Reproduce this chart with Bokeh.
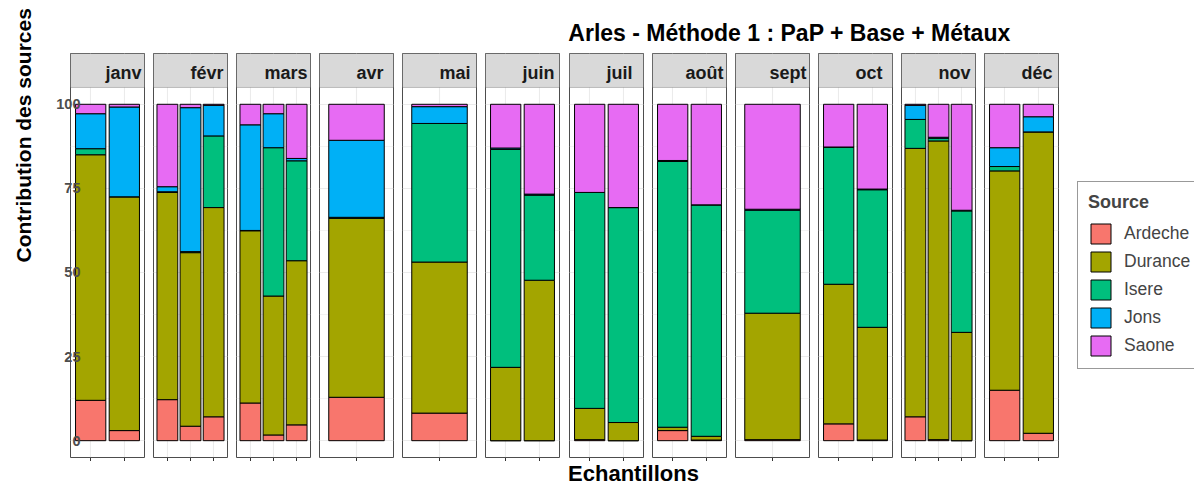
import numpy as np
from bokeh.plotting import figure
from bokeh.models import (ColumnDataSource, Range1d, FixedTicker, Label, Legend,
                          LegendItem, BoxAnnotation)
from bokeh.layouts import row, column
from bokeh.embed import file_html
from bokeh.resources import INLINE
from bokeh.core.properties import value

# ---------------- data ----------------
months = ["janv", "févr", "mars", "avr", "mai", "juin", "juil", "août", "sept", "oct", "nov", "déc"]
samples_per_month = [2, 3, 3, 1, 1, 2, 2, 2, 1, 2, 3, 2]
sources = ["Ardeche", "Durance", "Isere", "Jons", "Saone"]
colors = ["#F8766D", "#A3A500", "#00BF7D", "#00B0F6", "#E76BF3"]

ardeche = [12.0, 3.0, 12.2, 4.3, 7.1, 11.2, 1.7, 4.7, 12.9, 8.2, 0.0, 0.0,
           0.3, 0.0, 3.0, 0.2, 0.3, 5.0, 0.2, 7.1, 0.3, 0.0, 15.0, 2.2]
durance = [73.0, 69.5, 61.6, 51.6, 62.2, 51.2, 41.3, 48.8, 53.2, 44.9, 21.8, 47.7,
           9.3, 5.4, 1.0, 1.1, 37.6, 41.5, 33.5, 79.8, 88.8, 32.2, 65.2, 89.6]
isere = [1.8, 0.0, 0.2, 0.3, 21.3, 0.1, 44.1, 29.7, 0.3, 41.2, 64.8, 25.3,
         64.2, 63.9, 79.0, 68.8, 30.6, 40.8, 40.9, 8.6, 0.8, 36.1, 1.3, 0.0]
jons = [10.4, 26.7, 1.5, 42.8, 9.1, 31.4, 10.1, 0.7, 22.9, 5.0, 0.4, 0.3,
        0.0, 0.0, 0.3, 0.0, 0.3, 0.0, 0.2, 4.2, 0.3, 0.2, 5.6, 4.5]
saone = [2.8, 0.8, 24.5, 1.0, 0.3, 6.1, 2.8, 16.1, 10.7, 0.7, 13.0, 26.7,
         26.2, 30.7, 16.7, 29.9, 31.2, 12.7, 25.2, 0.3, 9.8, 31.5, 12.9, 3.7]
series = [ardeche, durance, isere, jons, saone]

y_ticks = [0, 25, 50, 75, 100]
y_minor = [12.5, 37.5, 62.5, 87.5]

title_text = "Arles - Méthode 1 : PaP + Base + Métaux"
x_title = "Echantillons"
y_title = "Contribution des sources"

# ---------------- layout constants (pixels) ----------------
FONT = "Liberation Sans"
PAGE_W, PAGE_H = 1194, 486
YLAB_W = 40
COL_W = PAGE_W - YLAB_W
TITLE_H = 52
FRAME_W = 74
FRAME_H = 404
TOP_B = 1
BOTTOM_B = 4
ROW_H = TOP_B + FRAME_H + BOTTOM_B
ROW_BOTTOM = TITLE_H + ROW_H
XLAB_H = PAGE_H - ROW_BOTTOM
Y_LO, Y_HI = -5, 105
STRIP = 10.1
STRIP_FS = 18
GRID_COL = "#EBEBEB"
BORDER_COL = "#4D4D4D"
BASE_SHIFT = 0.35  # baseline correction (em)

# approximate advance widths (em) of the bold sans used in the strips
_BOLD_W = {"a": .556, "c": .556, "d": .611, "e": .556, "é": .556, "f": .333, "i": .278,
           "j": .278, "l": .278, "m": .889, "n": .611, "o": .611, "p": .611, "r": .389,
           "s": .556, "t": .333, "u": .611, "û": .611, "v": .556}


def strip_text_width(t):
    return sum(_BOLD_W.get(ch, .6) for ch in t) * STRIP_FS


frame_lefts = [70 + int(round(i * 83.09)) for i in range(12)]


def blank_fig(w, h):
    f = figure(width=w, height=h, toolbar_location=None, output_backend="svg",
               x_axis_location=None, y_axis_location=None, min_border=0,
               x_range=Range1d(0, 1), y_range=Range1d(0, 1))
    f.outline_line_color = None
    f.grid.visible = False
    return f


panels = []
start = YLAB_W
offset = 0
src = None
for i, (m, n) in enumerate(zip(months, samples_per_month)):
    data = {"x": list(range(1, n + 1))}
    for s, vals in zip(sources, series):
        data[s] = vals[offset:offset + n]
    offset += n
    src = ColumnDataSource(data)

    left_b = frame_lefts[i] - start
    p = figure(frame_width=FRAME_W, frame_height=FRAME_H,
               x_range=Range1d(0.4, n + 0.6), y_range=Range1d(Y_LO, Y_HI + STRIP),
               toolbar_location=None, output_backend="svg",
               y_axis_location="left" if i == 0 else None,
               x_axis_location="below",
               min_border_left=left_b, min_border_right=1,
               min_border_top=TOP_B, min_border_bottom=BOTTOM_B)
    p.outline_line_color = BORDER_COL
    p.outline_line_width = 1
    p.background_fill_color = "white"
    p.border_fill_color = "white"

    p.ygrid.ticker = FixedTicker(ticks=y_ticks, minor_ticks=y_minor)
    p.ygrid.grid_line_color = GRID_COL
    p.ygrid.grid_line_width = 1.1
    p.ygrid.minor_grid_line_color = GRID_COL
    p.ygrid.minor_grid_line_width = 0.6
    p.xgrid.ticker = FixedTicker(ticks=list(range(1, n + 1)))
    p.xgrid.grid_line_color = GRID_COL
    p.xgrid.grid_line_width = 1.1

    p.xaxis.ticker = FixedTicker(ticks=list(range(1, n + 1)))
    p.xaxis.axis_line_color = None
    p.xaxis.major_tick_in = 0
    p.xaxis.major_tick_out = 4
    p.xaxis.major_tick_line_color = "#333333"
    p.xaxis.minor_tick_line_color = None
    p.xaxis.major_label_text_font_size = "0px"
    p.xaxis.major_label_text_color = None
    p.xaxis.major_label_standoff = 0

    if i == 0:
        p.yaxis.ticker = FixedTicker(ticks=y_ticks)
        p.yaxis.axis_line_color = None
        p.yaxis.major_tick_in = 0
        p.yaxis.major_tick_out = 0
        p.yaxis.minor_tick_line_color = None
        p.yaxis.major_label_text_font = FONT
        p.yaxis.major_label_text_font_style = "bold"
        p.yaxis.major_label_text_font_size = "14.5px"
        p.yaxis.major_label_text_color = "#4D4D4D"
        p.yaxis.major_label_standoff = -10

    # strip
    p.add_layout(BoxAnnotation(bottom=Y_HI, fill_color="#D9D9D9", fill_alpha=1,
                               line_color=BORDER_COL, line_width=1, level="underlay"))
    fits = strip_text_width(m) <= FRAME_W / 2 - 2
    p.text(x=[(n + 1) / 2 if fits else n + 0.6], y=[Y_HI + 0.43 * STRIP], text=[m],
           x_offset=0 if fits else -3,
           text_font=value(FONT), text_font_style="bold", text_font_size=f"{STRIP_FS}px",
           text_align="left" if fits else "right", text_baseline="alphabetic",
           text_color="#1A1A1A")

    p.vbar_stack(sources, x="x", width=0.9, color=colors,
                 line_color="black", line_width=1, source=src)

    panels.append(p)
    start = frame_lefts[i] + FRAME_W + 1

# legend figure (right of the panels); its key glyphs reuse the last month's data, hidden
LEG_W = PAGE_W - start
lf = blank_fig(LEG_W, ROW_H)
leg_items = []
for s, c in zip(sources, colors):
    r = lf.vbar(x="x", top=s, width=0.9, source=src, fill_color=c,
                line_color="black", line_width=1, visible=False)
    leg_items.append(LegendItem(label=s, renderers=[r]))
legend = Legend(items=leg_items, location=(1077 - start, ROW_BOTTOM - 373),
                title="Source", title_text_font=FONT, title_text_font_style="bold",
                title_text_font_size="18px", label_text_font=FONT,
                label_text_font_size="17.5px", glyph_width=25, glyph_height=25,
                spacing=3, padding=10, label_standoff=11, title_standoff=8,
                border_line_color="#333333", border_line_width=1,
                inactive_fill_alpha=0,
                background_fill_color="white", background_fill_alpha=1, margin=0)
lf.add_layout(legend)

# title figure
tf = blank_fig(COL_W, TITLE_H)
tf.add_layout(Label(x=789 - YLAB_W, y=TITLE_H - (40.7 - BASE_SHIFT * 23),
                    x_units="screen", y_units="screen", text=title_text,
                    text_align="center", text_baseline="alphabetic", text_font=FONT,
                    text_font_style="bold", text_font_size="23px", text_color="black"))

# x label figure
xf = blank_fig(COL_W, XLAB_H)
xf.add_layout(Label(x=633 - YLAB_W, y=PAGE_H - (481.1 - BASE_SHIFT * 22),
                    x_units="screen", y_units="screen", text=x_title,
                    text_align="center", text_baseline="alphabetic", text_font=FONT,
                    text_font_style="bold", text_font_size="22px", text_color="black"))

# y label figure
yf = blank_fig(YLAB_W, PAGE_H)
yf.add_layout(Label(x=30 - BASE_SHIFT * 21, y=PAGE_H - 262, x_units="screen", y_units="screen",
                    angle=np.pi / 2, text=y_title, text_align="left",
                    text_baseline="alphabetic", text_font=FONT, text_font_style="bold",
                    text_font_size="21px", text_color="black"))

layout = row(yf, column(tf, row(*panels, lf, spacing=0), xf, spacing=0), spacing=0)
open("out.html", "w").write(file_html(layout, INLINE))
